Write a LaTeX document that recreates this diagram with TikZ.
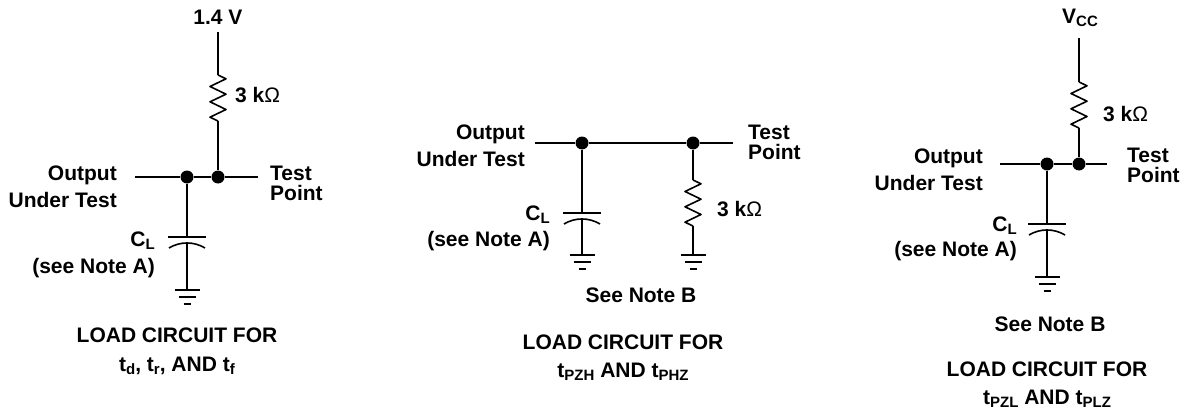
\documentclass[tikz,border=0pt]{standalone}
\usepackage{fontspec}
\setmainfont{Liberation Sans}
\usepackage{amsmath}
\usepackage{tikz}
\usetikzlibrary{calc}

\newcommand{\lowsub}[1]{\raisebox{-3pt}{\fontsize{15}{15}\selectfont #1}}

\tikzset{
    wire/.style = {black, line width = 1.6pt},
    junction/.style = {circle, fill = black, inner sep = 0pt, minimum size = 13pt},
    txt/.style = {inner sep = 0pt, font = \fontsize{21}{27}\selectfont\bfseries},
    resistor/.pic = {
        \coordinate (-top) at (0, 0);
        \coordinate (-bot) at (0, 46);
        \draw[wire, line join = round](-top) -- (8, 3.8) -- (-8, 11.5) -- (8, 19.2) -- (-8, 26.8) -- (8, 34.5) -- (-8, 42.2) -- (-bot);
    },
    capacitor/.pic = {
        \coordinate (-top) at (0, 0);
        \coordinate (-apex) at (0, 6);
        \draw[wire](-19, 0) -- (19, 0);
        \draw[wire](-18, 11) .. controls (-7, 4.3) and (7, 4.3) .. (18, 11);
    },
    ground/.pic = {
        \coordinate (-top) at (0, 0);
        \draw[wire](-12.5, 0) -- (12.5, 0);
        \draw[wire](-8.5, 7) -- (8.5, 7);
        \draw[wire, line width = 2.2pt](-3.5, 14) -- (3.5, 14);
    }
}

\begin{document}
\begin{tikzpicture}[x = 1pt, y = -1pt]
            \useasboundingbox (0, 0) rectangle (1186, 412);

            % load circuit for td, tr and tf
            \coordinate (supply_a) at (218, 32);
            \coordinate (in_a) at (135, 177);
            \coordinate (tp_a) at (258, 177);
            \node[junction] (out_dot_a) at (187, 177) {};
            \node[junction] (tp_dot_a) at (218, 177) {};
            \pic (res_a) at (218, 75) {resistor};
            \pic (cap_a) at (187, 237) {capacitor};
            \pic (gnd_a) at (187, 290) {ground};

            \draw[wire](supply_a) -- (res_a-top);
            \draw[wire](res_a-bot) -- (tp_dot_a);
            \draw[wire](in_a) -- (out_dot_a) -- (tp_dot_a) -- (tp_a);
            \draw[wire](out_dot_a) -- (cap_a-top);
            \draw[wire](cap_a-apex) -- (gnd_a-top);

            \node[txt, anchor = north] (volt_a) at (218, 10) {1.4 V};
            \node[txt, anchor = north west] (rval_a) at (235, 87) {3 k\textmd{Ω}};
            \node[txt, anchor = north east, align = right] (out_lbl_a) at (117, 166) {Output\\Under Test};
            \node[txt, anchor = north west, align = left, font = \fontsize{21}{20}\selectfont\bfseries] (tp_lbl_a) at (270, 166) {Test\\Point};
            \node[txt, anchor = north east] (cl_a) at (155, 232) {C\lowsub{L}};
            \node[txt, anchor = north east] (note_a) at (155, 258) {(see Note A)};
            \node[txt, anchor = north, align = center, font = \fontsize{21}{29}\selectfont\bfseries] (title_a) at (177, 328) {LOAD CIRCUIT FOR\\t\lowsub{d}, t\lowsub{r}, AND t\lowsub{f}};

            % load circuit for tPZH and tPHZ
            \coordinate (in_b) at (535, 143);
            \coordinate (tp_b) at (733, 143);
            \node[junction] (out_dot_b) at (582, 143) {};
            \node[junction] (tp_dot_b) at (693, 143) {};
            \pic (res_b) at (693, 180) {resistor};
            \pic (cap_b) at (582, 213) {capacitor};
            \pic (gnd_cap_b) at (582, 255) {ground};
            \pic (gnd_res_b) at (693, 255) {ground};

            \draw[wire](in_b) -- (out_dot_b) -- (tp_dot_b) -- (tp_b);
            \draw[wire](out_dot_b) -- (cap_b-top);
            \draw[wire](cap_b-apex) -- (gnd_cap_b-top);
            \draw[wire](tp_dot_b) -- (res_b-top);
            \draw[wire](res_b-bot) -- (gnd_res_b-top);

            \node[txt, anchor = north west] (rval_b) at (717, 201) {3 k\textmd{Ω}};
            \node[txt, anchor = north east, align = right] (out_lbl_b) at (525, 125) {Output\\Under Test};
            \node[txt, anchor = north west, align = left, font = \fontsize{21}{20}\selectfont\bfseries] (tp_lbl_b) at (748, 125) {Test\\Point};
            \node[txt, anchor = north east] (cl_b) at (550, 206) {C\lowsub{L}};
            \node[txt, anchor = north east] (note_a_b) at (550, 231) {(see Note A)};
            \node[txt, anchor = north] (note_b_b) at (641, 288) {See Note B};
            \node[txt, anchor = north, align = center, font = \fontsize{21}{28}\selectfont\bfseries] (title_b) at (623, 335) {LOAD CIRCUIT FOR\\t\lowsub{PZH} AND t\lowsub{PHZ}};

            % load circuit for tPZL and tPLZ
            \coordinate (supply_c) at (1079, 38);
            \coordinate (in_c) at (1000, 164);
            \coordinate (tp_c) at (1107, 164);
            \node[junction] (out_dot_c) at (1047, 164) {};
            \node[junction] (tp_dot_c) at (1079, 164) {};
            \pic (res_c) at (1079, 82) {resistor};
            \pic (cap_c) at (1047, 224) {capacitor};
            \pic (gnd_c) at (1047, 277) {ground};

            \draw[wire](supply_c) -- (res_c-top);
            \draw[wire](res_c-bot) -- (tp_dot_c);
            \draw[wire](in_c) -- (out_dot_c) -- (tp_dot_c) -- (tp_c);
            \draw[wire](out_dot_c) -- (cap_c-top);
            \draw[wire](cap_c-apex) -- (gnd_c-top);

            \node[txt, anchor = north] (volt_c) at (1080, 9) {V\lowsub{CC}};
            \node[txt, anchor = north west] (rval_c) at (1103, 106) {3 k\textmd{Ω}};
            \node[txt, anchor = north east, align = right] (out_lbl_c) at (983, 149) {Output\\Under Test};
            \node[txt, anchor = north west, align = left, font = \fontsize{21}{20}\selectfont\bfseries] (tp_lbl_c) at (1127, 148) {Test\\Point};
            \node[txt, anchor = north east] (cl_c) at (1017, 217) {C\lowsub{L}};
            \node[txt, anchor = north east] (note_a_c) at (1017, 241) {(see Note A)};
            \node[txt, anchor = north] (note_b_c) at (1050, 317) {See Note B};
            \node[txt, anchor = north, align = center, font = \fontsize{21}{28}\selectfont\bfseries] (title_c) at (1047, 362) {LOAD CIRCUIT FOR\\t\lowsub{PZL} AND t\lowsub{PLZ}};
        \end{tikzpicture}
\end{document}
